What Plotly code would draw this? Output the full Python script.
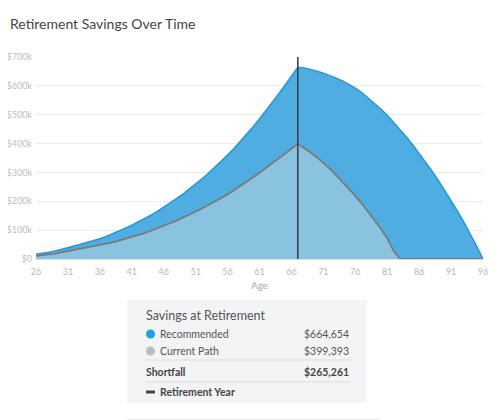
import plotly.graph_objects as go

# Ages and savings (thousands of dollars)
ages = list(range(26, 97))

recommended_k = [
    16, 19, 23, 28, 33, 39, 45, 51, 57, 63,
    70, 78, 87, 97, 107, 117, 128, 140, 152, 165,
    179, 194, 209, 225, 242, 260, 278, 297, 317, 338,
    360, 383, 407, 432, 458, 485, 513, 542, 572, 602,
    633, 664.654,
    662, 657, 651, 644, 636, 627, 617, 605, 592, 577,
    559, 540, 520, 498, 474, 449, 423, 395, 366, 336,
    305, 272, 238, 203, 166, 128, 88, 45, 0,
]

current_k = [
    11, 13, 16, 19, 23, 27, 31, 35, 39, 43,
    48, 53, 58, 64, 70, 76, 83, 90, 98, 106,
    115, 124, 133, 143, 153, 164, 175, 187, 199, 211,
    224, 238, 252, 267, 283, 299, 315, 332, 348, 365,
    382, 399.393,
    385, 369, 352, 333, 313, 291, 268, 244, 219, 193,
    165, 136, 105, 72, 28, 0, 0, 0, 0, 0,
    0, 0, 0, 0, 0, 0, 0, 0, 0,
]

recommended = [round(v * 1000) for v in recommended_k]
current = [round(v * 1000) for v in current_k]

retirement_age = 67
x_ticks = list(range(26, 97, 5))
y_ticks = [0, 100000, 200000, 300000, 400000, 500000, 600000, 700000]
y_tick_labels = ["$0", "$100k", "$200k", "$300k", "$400k", "$500k", "$600k", "$700k"]

ret_idx = ages.index(retirement_age)
rec_at_ret = recommended[ret_idx]
cur_at_ret = current[ret_idx]
shortfall = rec_at_ret - cur_at_ret

# page has an 8px body margin, so the figure is 492x412 and screen coords are shifted
OFF = 8
W, H = 500 - OFF, 420 - OFF
L, R, T, B = 36 - OFF, 483 - OFF, 57 - OFF, 259 - OFF
FONT = "Lato"


def px(x):
    return (x - OFF - L) / (R - L)


def py(y):
    return (B - (y - OFF)) / (B - T)


fig = go.Figure()
fig.add_trace(go.Scatter(
    x=ages, y=recommended, mode="lines", name="Recommended",
    fill="tozeroy", fillcolor="rgb(80,173,226)",
    line=dict(color="rgb(38,150,214)", width=1.5),
))
fig.add_trace(go.Scatter(
    x=ages, y=current, mode="lines", name="Current Path",
    fill="tozeroy", fillcolor="rgb(137,195,224)",
    line=dict(color="rgb(122,122,122)", width=1.8),
))

shapes = [
    dict(type="line", xref="x", yref="y", x0=retirement_age, x1=retirement_age,
         y0=0, y1=700000, line=dict(color="#3a444c", width=1.6), layer="above"),
    # summary panel
    dict(type="rect", xref="paper", yref="paper", x0=px(127), x1=px(367),
         y0=py(403), y1=py(300), fillcolor="#f3f4f6", line=dict(width=0), layer="below"),
    dict(type="line", xref="paper", yref="paper", x0=px(145), x1=px(351),
         y0=py(360), y1=py(360), line=dict(color="#dadde1", width=1)),
    dict(type="line", xref="paper", yref="paper", x0=px(145), x1=px(351),
         y0=py(382), y1=py(382), line=dict(color="#dadde1", width=1)),
    dict(type="line", xref="paper", yref="paper", x0=px(127), x1=px(380),
         y0=py(419), y1=py(419), line=dict(color="#e6e7ea", width=1)),
    dict(type="circle", xref="paper", yref="paper", x0=px(146), x1=px(155),
         y0=py(338.5), y1=py(329.5), fillcolor="#1ea1e6", line=dict(width=0)),
    dict(type="circle", xref="paper", yref="paper", x0=px(146), x1=px(155),
         y0=py(355.5), y1=py(346.5), fillcolor="#bdbdbd", line=dict(width=0)),
    dict(type="rect", xref="paper", yref="paper", x0=px(146), x1=px(155),
         y0=py(393.5), y1=py(390.5), fillcolor="#444444", line=dict(width=0)),
]


def note(text, x, y, anchor="left", size=11, color="#555", bold=False):
    if bold:
        text = f"<b>{text}</b>"
    return dict(text=text, xref="paper", yref="paper", x=px(x), y=py(y),
                xanchor=anchor, yanchor="middle", showarrow=False,
                font=dict(family=FONT, size=size, color=color))


annotations = [
    note("Savings at Retirement", 144, 315, size=12.5, color="#555"),
    note("Recommended", 158, 334, size=10.5),
    note(f"${rec_at_ret:,}", 351, 334, anchor="right", size=10.5),
    note("Current Path", 158, 351, size=10.5),
    note(f"${cur_at_ret:,}", 351, 351, anchor="right", size=10.5),
    note("Shortfall", 144, 372, size=10.5, color="#444", bold=True),
    note(f"${shortfall:,}", 351, 372, anchor="right", size=10.5, color="#444", bold=True),
    note("Retirement Year", 158, 392, size=10.5, color="#444", bold=True),
]

fig.update_layout(
    width=W, height=H,
    margin=dict(l=L, r=W - R, t=T, b=H - B, autoexpand=False),
    paper_bgcolor="white", plot_bgcolor="white",
    showlegend=False, hovermode=False,
    font=dict(family=FONT, color="#bbbbbb", size=9),
    title=dict(text="Retirement Savings Over Time", x=(10 - OFF) / W, xanchor="left",
               y=1 - (24 - OFF) / H, yanchor="middle", pad=dict(l=0, t=0),
               font=dict(family=FONT, size=14, color="#444")),
    shapes=shapes,
    annotations=annotations,
)
fig.update_xaxes(
    range=[26, 96], tickvals=x_ticks, showgrid=False, zeroline=False,
    showline=True, linecolor="#dddddd", linewidth=1, automargin=False,
    ticks="", ticklabelstandoff=4,
    tickfont=dict(family=FONT, size=9, color="#b8b8b8"),
    title=dict(text="Age", standoff=6, font=dict(family=FONT, size=10, color="#aaaaaa")),
)
fig.update_yaxes(
    range=[0, 700000], tickvals=y_ticks, ticktext=y_tick_labels,
    showgrid=True, gridcolor="#ececec", gridwidth=1, zeroline=False,
    ticks="", ticklabelstandoff=3, automargin=False,
    tickfont=dict(family=FONT, size=9, color="#bdbdbd"),
)

fig.write_html("out.html")
